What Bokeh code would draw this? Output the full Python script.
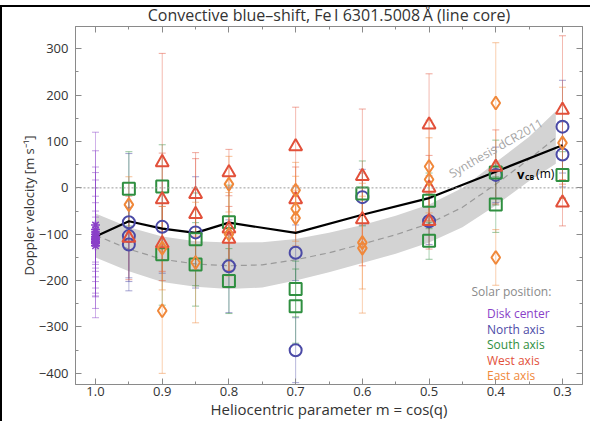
from bokeh.plotting import figure
from bokeh.models import (Range1d, FixedTicker, LinearAxis, Span, Label, Legend,
                          LegendItem, CustomJSTickFormatter)
from bokeh.embed import file_html
from bokeh.resources import INLINE

FONT = "Open Sans"

# ---------------- data ----------------
x_ticks = [1.0, 0.9, 0.8, 0.7, 0.6, 0.5, 0.4, 0.3]
x_minor = [1.0, 0.95, 0.9, 0.85, 0.8, 0.75, 0.7, 0.65, 0.6, 0.55, 0.5, 0.45, 0.4, 0.35, 0.3]
y_ticks = [-400, -300, -200, -100, 0, 100, 200, 300]
y_minor = [-450, -400, -350, -300, -250, -200, -150, -100, -50, 0, 50, 100, 150, 200, 250, 300]

disk_m = [1.0] * 12
disk_v = [-80, -90, -95, -100, -105, -108, -110, -112, -115, -118, -120, -125]
disk_err = [200, 170, 140, 133, 122, 108, 92, 80, 65, 55, 45, 35]

north_m = [0.95, 0.95, 0.95, 0.9, 0.85, 0.8, 0.7, 0.7, 0.6, 0.5, 0.4, 0.3, 0.3]
north_v = [-74, -104, -122, -84, -96, -169, -140, -350, -20, -72, 28, 132, 72]
north_err = [148, 90, 80, 100, 120, 100, 60, 70, 60, 50, 60, 100, 70]

south_m = [0.95, 0.9, 0.9, 0.85, 0.85, 0.8, 0.8, 0.7, 0.7, 0.6, 0.5, 0.5, 0.4, 0.4, 0.3]
south_v = [-2, 3, -143, -111, -165, -74, -201, -218, -255, -12, -28, -114, 33, -36, 28]
south_err = [80, 90, 110, 100, 90, 80, 70, 60, 80, 70, 60, 40, 70, 60, 50]

west_m = [0.95, 0.9, 0.9, 0.9, 0.85, 0.85, 0.8, 0.8, 0.8, 0.7, 0.7, 0.6, 0.6, 0.5, 0.5, 0.5, 0.4, 0.3, 0.3]
west_v = [-108, 55, -25, -120, -14, -57, 33, -88, -110, 89, -25, 25, -68, 136, 0, -72, 45, 168, -32]
west_err = [90, 235, 100, 80, 90, 120, 50, 90, 70, 85, 70, 145, 100, 110, 70, 60, 80, 160, 50]

east_m = [0.95, 0.9, 0.9, 0.85, 0.8, 0.8, 0.7, 0.7, 0.7, 0.6, 0.6, 0.5, 0.5, 0.4, 0.4, 0.3]
east_v = [-36, -130, -265, -161, 8, -100, -5, -45, -65, -118, -130, 46, 18, 183, -150, 97]
east_err = [60, 90, 135, 130, 60, 90, 60, 70, 60, 100, 140, 100, 90, 130, 60, 120]

syn_m = [1.0, 0.95, 0.9, 0.85, 0.8, 0.75, 0.7, 0.65, 0.6, 0.55, 0.5, 0.45, 0.4, 0.35, 0.31]
syn_hi = [-55, -85, -105, -115, -118, -117, -110, -97, -80, -60, -36, 0, 55, 110, 165]
syn_lo = [-150, -180, -203, -213, -218, -215, -200, -182, -162, -142, -118, -85, -38, 15, 52]
syn_mid = [-102, -132, -154, -164, -168, -166, -155, -140, -121, -101, -77, -42, 8, 62, 108]

vcb_m = [1.0, 0.95, 0.9, 0.85, 0.8, 0.7, 0.6, 0.5, 0.4, 0.3]
vcb_v = [-105, -72, -88, -97, -75, -97, -58, -22, 35, 92]

C_DISK = "#8a3fc8"
C_NORTH = "#4b4aa6"
C_SOUTH = "#2f8f40"
C_WEST = "#e2503a"
C_EAST = "#f0883a"

# ---------------- figure ----------------
W, H = 590, 421
p = figure(width=W, height=H, output_backend="svg", toolbar_location=None,
           x_range=Range1d(1.03, 0.27), y_range=Range1d(-424, 348),
           min_border_left=75, min_border_right=8, min_border_top=0, min_border_bottom=0,
           styles={"background-image": "linear-gradient(#000, #000), linear-gradient(#000, #000)",
                   "background-size": "100% 2px, 2px 100%",
                   "background-position": "0px 5px, 0px 5px",
                   "background-repeat": "no-repeat"})
p.outline_line_color = "#8a8a8a"
p.grid.visible = False
p.background_fill_color = "white"
p.border_fill_color = None

AX = "#8a8a8a"
TXT = "#333333"

p.title.text = "Convective blue\u2013shift, Fe\u2009I 6301.5008\u2009\u00c5 (line core)"
p.title.align = "center"
p.title.offset = -20
p.title.standoff = 2
p.title.text_font = FONT
p.title.text_font_size = "16px"
p.title.text_font_style = "normal"
p.title.text_color = TXT


def style_axis(ax, labels=True):
    ax.axis_line_color = AX
    ax.major_tick_line_color = AX
    ax.minor_tick_line_color = AX
    ax.major_tick_in = 6
    ax.major_tick_out = 0
    ax.minor_tick_in = 3
    ax.minor_tick_out = 0
    ax.major_label_text_font = FONT
    ax.major_label_text_font_size = "13px"
    ax.major_label_text_color = TXT if labels else None
    ax.axis_label_text_font = FONT
    ax.axis_label_text_font_style = "normal"
    ax.axis_label_text_font_size = "14px"
    ax.axis_label_text_color = TXT


p.xaxis.ticker = FixedTicker(ticks=x_ticks, minor_ticks=x_minor)
p.xaxis.formatter = CustomJSTickFormatter(code="return tick.toFixed(1);")
p.yaxis.ticker = FixedTicker(ticks=y_ticks, minor_ticks=y_minor)
style_axis(p.xaxis[0])
style_axis(p.yaxis[0])
p.xaxis.axis_label = "Heliocentric parameter m = cos(q)"
p.xaxis.axis_label_text_font_size = "15px"
p.yaxis.axis_label = "Doppler velocity [m s\u207b\u00b9]"
p.yaxis.axis_label_text_font_size = "13px"
p.xaxis.major_label_standoff = 2
p.xaxis.axis_label_standoff = 0
p.yaxis.major_label_standoff = 7
p.yaxis.axis_label_standoff = -2

top_ax = LinearAxis(ticker=FixedTicker(ticks=x_ticks, minor_ticks=x_minor))
right_ax = LinearAxis(ticker=FixedTicker(ticks=y_ticks, minor_ticks=y_minor))
style_axis(top_ax, labels=False)
style_axis(right_ax, labels=False)
top_ax.major_label_standoff = 0
right_ax.major_label_standoff = 0
p.add_layout(top_ax, "above")
p.add_layout(right_ax, "right")

# synthesis band
p.varea(x=syn_m, y1=syn_lo, y2=syn_hi, fill_color="#d3d3d3", fill_alpha=1.0)
p.line(syn_m, syn_mid, line_color="#9a9a9a", line_width=1.2, line_dash="6 4")

p.add_layout(Span(location=0, dimension="width", line_color="#9a9a9a",
                  line_dash="2 2", line_width=1))


def errbars(m, v, e, color):
    lo = [a - b for a, b in zip(v, e)]
    hi = [a + b for a, b in zip(v, e)]
    p.segment(x0=m, y0=lo, x1=m, y1=hi, line_color=color, line_alpha=0.4, line_width=1)
    p.scatter(m, lo, marker="dash", size=7, line_color=color, line_alpha=0.5, line_width=1)
    p.scatter(m, hi, marker="dash", size=7, line_color=color, line_alpha=0.5, line_width=1)


errbars(disk_m, disk_v, disk_err, C_DISK)
errbars(north_m, north_v, north_err, C_NORTH)
errbars(south_m, south_v, south_err, C_SOUTH)
errbars(west_m, west_v, west_err, C_WEST)
errbars(east_m, east_v, east_err, C_EAST)

p.line(vcb_m, vcb_v, line_color="black", line_width=2.2)

p.scatter(disk_m, disk_v, marker="asterisk", size=9, line_color=C_DISK, line_width=1.5)
p.scatter(north_m, north_v, marker="circle", size=12, fill_color=None, line_color=C_NORTH, line_width=2)
p.scatter(south_m, south_v, marker="square", size=12, fill_color=None, line_color=C_SOUTH, line_width=2)
p.scatter(west_m, west_v, marker="triangle", size=13, fill_color=None, line_color=C_WEST, line_width=2)
p.scatter(east_m, east_v, marker="diamond", size=13, fill_color=None, line_color=C_EAST, line_width=2)

# annotations
p.add_layout(Label(x=0.40, y=86, text="Synthesis dCR2011", angle=0.52,
                   text_align="center", text_baseline="middle", text_color="#a5a5a5",
                   text_font=FONT, text_font_size="12px"))
p.add_layout(Label(x=0.368, y=31, text="v", text_align="left", text_baseline="middle",
                   text_color="black", text_font=FONT, text_font_size="13px", text_font_style="bold"))
p.add_layout(Label(x=0.368, y=31, x_offset=8, y_offset=-4, text="CB", text_align="left",
                   text_baseline="middle", text_color="black", text_font=FONT,
                   text_font_size="7px", text_font_style="bold"))
p.add_layout(Label(x=0.368, y=31, x_offset=19, text="(m)", text_align="left", text_baseline="middle",
                   text_color="black", text_font=FONT, text_font_size="12px"))

# legend
p.add_layout(Label(x=396, y=93, x_units="screen", y_units="screen", text="Solar position:",
                   text_align="left", text_baseline="middle", text_color="#8a8a8a",
                   text_font=FONT, text_font_size="12px"))

entries = [("Disk center", "asterisk", C_DISK), ("North axis", "circle", C_NORTH),
           ("South axis", "square", C_SOUTH), ("West axis", "triangle", C_WEST),
           ("East axis", "diamond", C_EAST)]
for i, (lab, mk, col) in enumerate(entries):
    r = p.scatter([], [], marker=mk, size=7, fill_color=None, line_color=col, line_width=1.3)
    lg = Legend(items=[LegendItem(label=lab, renderers=[r])], location=(399, 62 - i * 15.5),
                padding=0, margin=0, spacing=0, glyph_width=10, glyph_height=12,
                label_height=12, label_standoff=3, label_text_color=col,
                label_text_font=FONT, label_text_font_size="12px",
                border_line_alpha=0, background_fill_alpha=0)
    p.add_layout(lg)

open("out.html", "w").write(file_html(p, INLINE))
